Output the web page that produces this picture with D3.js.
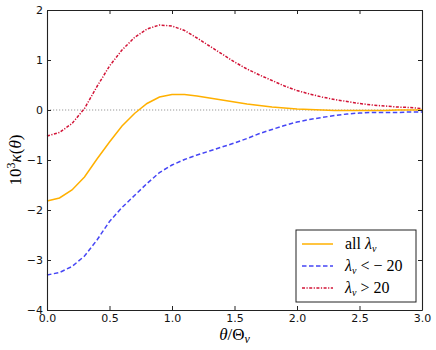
<!DOCTYPE html>
<html>
<head>
<meta charset="utf-8">
<script src="https://cdn.jsdelivr.net/npm/d3@7"></script>
<style>
  body { margin: 0; background: #fff; }
  svg { display: block; }
</style>
</head>
<body>
<script>
// theta / Theta_v sampled every 0.1
var thetas = d3.range(0, 31).map(function(i) { return i / 10; });

var allLam = [-1.82, -1.76, -1.60, -1.34, -0.98, -0.64, -0.32, -0.07, 0.13, 0.26,
              0.31, 0.31, 0.28, 0.24, 0.20, 0.16, 0.12, 0.09, 0.06, 0.04,
              0.02, 0.01, 0.00, -0.01, -0.01, -0.01, -0.01, -0.01, 0.00, 0.00, 0.00];
var negLam = [-3.30, -3.25, -3.13, -2.92, -2.60, -2.23, -1.95, -1.71, -1.47, -1.25,
              -1.10, -0.99, -0.90, -0.82, -0.74, -0.66, -0.57, -0.47, -0.39, -0.31,
              -0.24, -0.19, -0.15, -0.11, -0.08, -0.06, -0.05, -0.05, -0.05, -0.04, -0.04];
var posLam = [-0.52, -0.45, -0.27, 0.03, 0.47, 0.88, 1.20, 1.45, 1.62, 1.70,
              1.68, 1.59, 1.44, 1.28, 1.12, 0.96, 0.82, 0.70, 0.59, 0.48,
              0.39, 0.32, 0.26, 0.21, 0.17, 0.13, 0.10, 0.08, 0.06, 0.05, 0.03];

var xTicks = [0, 0.5, 1, 1.5, 2, 2.5, 3];
var yTicks = [-4, -3, -2, -1, 0, 1, 2];

var width = 436, height = 350;
var plotL = 47, plotR = 422, plotT = 10, plotB = 310;

var svg = d3.select("body").append("svg")
            .attr("width", width)
            .attr("height", height);

var x = d3.scaleLinear().domain([0, 3]).range([plotL, plotR]);
var y = d3.scaleLinear().domain([-4, 2]).range([plotB, plotT]);

var tickFont = "'DejaVu Sans', sans-serif";

// zero line
svg.append("line")
   .attr("x1", x(0)).attr("x2", x(3))
   .attr("y1", y(0)).attr("y2", y(0))
   .style("stroke", "#999")
   .style("stroke-width", 1.2)
   .style("stroke-dasharray", "1.2,1.8");

// curves
var series = [
  {vals: allLam, color: "#FFB000", dash: null},
  {vals: negLam, color: "#4646F5", dash: "4.5,2.5"},
  {vals: posLam, color: "#D21437", dash: "3,1.5,1.2,1.5"}
];

var line = d3.line()
  .x(function(d, i) { return x(thetas[i]); })
  .y(function(d) { return y(d); });

series.forEach(function(s) {
  svg.append("path")
     .attr("d", line(s.vals))
     .style("fill", "none")
     .style("stroke", s.color)
     .style("stroke-width", 1.5)
     .style("stroke-dasharray", s.dash);
});

// axes
var fmtX = d3.format(".1f");
var fmtY = function(d) { return d3.format("d")(d).replace("-", "\u2212"); };

var gBottom = svg.append("g")
  .attr("transform", "translate(0," + plotB + ")")
  .call(d3.axisBottom(x).tickValues(xTicks).tickFormat(fmtX).tickSizeInner(-4).tickSizeOuter(0).tickPadding(4));
var gTop = svg.append("g")
  .attr("transform", "translate(0," + plotT + ")")
  .call(d3.axisTop(x).tickValues(xTicks).tickFormat("").tickSizeInner(-4).tickSizeOuter(0));
var gLeft = svg.append("g")
  .attr("transform", "translate(" + plotL + ",0)")
  .call(d3.axisLeft(y).tickValues(yTicks).tickFormat(fmtY).tickSizeInner(-4).tickSizeOuter(0).tickPadding(4));
var gRight = svg.append("g")
  .attr("transform", "translate(" + plotR + ",0)")
  .call(d3.axisRight(y).tickValues(yTicks).tickFormat("").tickSizeInner(-4).tickSizeOuter(0));

[gBottom, gTop, gLeft, gRight].forEach(function(g) {
  g.select(".domain").style("stroke", "#222").style("stroke-width", 1.1);
  g.selectAll(".tick line").style("stroke", "#222");
  g.selectAll("text")
   .style("font-family", tickFont)
   .style("font-size", "11px")
   .style("fill", "#111");
});

// axis titles
var serif = "'Liberation Serif', 'DejaVu Serif', serif";

var xt = svg.append("text")
  .attr("x", (plotL + plotR) / 2)
  .attr("y", 340)
  .attr("text-anchor", "middle")
  .style("font-family", serif)
  .style("font-size", "17px");
xt.append("tspan").style("font-style", "italic").text("\u03B8");
xt.append("tspan").text("/\u0398");
xt.append("tspan").style("font-style", "italic").style("font-size", "12px").attr("dy", 3).text("v");

var yt = svg.append("text")
  .attr("transform", "translate(21," + ((plotT + plotB) / 2) + ") rotate(-90)")
  .attr("text-anchor", "middle")
  .style("font-family", serif)
  .style("font-size", "17px");
yt.append("tspan").text("10");
yt.append("tspan").style("font-size", "12px").attr("dy", -6).text("3");
yt.append("tspan").attr("dy", 6).style("font-style", "italic").text("\u03BA");
yt.append("tspan").text("(");
yt.append("tspan").style("font-style", "italic").text("\u03B8");
yt.append("tspan").text(")");

// legend
var legend = svg.append("g");
legend.append("rect")
  .attr("x", 296).attr("y", 230)
  .attr("width", 120).attr("height", 72)
  .style("fill", "#fff")
  .style("stroke", "#222")
  .style("stroke-width", 1);

var labels = [
  [{t: "all ", i: false}, {t: "\u03BB", i: true}, {t: "v", i: true, sub: true}],
  [{t: "\u03BB", i: true}, {t: "v", i: true, sub: true}, {t: " < \u2212 20", i: false}],
  [{t: "\u03BB", i: true}, {t: "v", i: true, sub: true}, {t: " > 20", i: false}]
];

series.forEach(function(s, k) {
  var ly = 244 + k * 22;
  legend.append("line")
    .attr("x1", 302).attr("x2", 333)
    .attr("y1", ly).attr("y2", ly)
    .style("stroke", s.color)
    .style("stroke-width", 1.5)
    .style("stroke-dasharray", s.dash);
  var t = legend.append("text")
    .attr("x", 345).attr("y", ly + 5)
    .style("font-family", serif)
    .style("font-size", "16px");
  var shifted = false;
  labels[k].forEach(function(p) {
    var ts = t.append("tspan").text(p.t);
    if (p.i) ts.style("font-style", "italic");
    if (p.sub) { ts.style("font-size", "10px").attr("dy", 3); shifted = true; }
    else if (shifted) { ts.attr("dy", -3); shifted = false; }
  });
});
</script>
</body>
</html>
